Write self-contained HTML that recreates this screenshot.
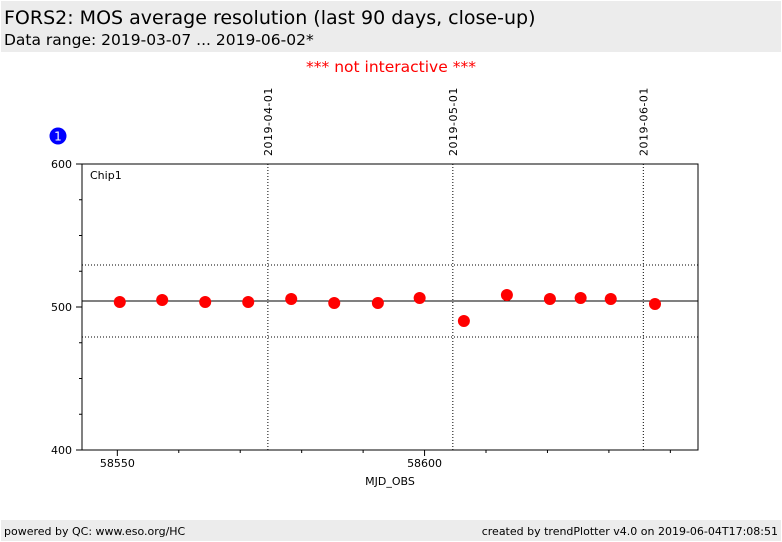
<!DOCTYPE html>
<html><head><meta charset="utf-8"><style>
body{margin:0;background:#fff;font-family:"DejaVu Sans","Liberation Sans",sans-serif;}
#wrap{position:relative;width:782px;height:542px;overflow:hidden;}
.hdr{position:absolute;left:1px;top:1px;width:780px;height:51px;background:#ececec;}
.ftr{position:absolute;left:1px;top:520px;width:780px;height:21px;background:#ececec;font-size:11px;}
</style></head><body>
<div id="wrap">
<div class="hdr">
<div style="position:absolute;left:3px;top:6px;font-size:19px">FORS2: MOS average resolution (last 90 days, close-up)</div>
<div style="position:absolute;left:3px;top:30px;font-size:15.5px">Data range: 2019-03-07 ... 2019-06-02*</div>
</div>
<div style="position:absolute;left:0;width:782px;top:58px;text-align:center;color:#f00;font-size:15.5px">*** not interactive ***</div>
<div class="ftr">
<span style="position:absolute;left:3px;top:5px">powered by QC: www.eso.org/HC</span>
<span style="position:absolute;right:3px;top:5px">created by trendPlotter v4.0 on 2019-06-04T17:08:51</span>
</div>
<svg id="svg" width="782" height="542" style="position:absolute;left:0;top:0" font-family="DejaVu Sans, Liberation Sans, sans-serif"></svg>
</div>
<script>
const mjd=[58550.4,58557.3,58564.3,58571.3,58578.3,58585.3,58592.4,58599.2,58606.4,58613.4,58620.4,58625.4,58630.3,58637.5];
const res=[503.5,504.9,503.5,503.5,505.6,502.8,502.8,506.3,490.2,508.4,505.6,506.3,505.6,502.1];
const xTicks=[58550,58600];
const yTicks=[400,500,600];
const dateLines=[58574.5,58604.6,58635.6];
const dateLabels=["2019-04-01","2019-05-01","2019-06-01"];
const refLines=[504.2];
const limitLines=[529.4,479];
const L=82,R=698,T=164,B=450,X0=58544.25,X1=58644.5,Y0=400,Y1=600;
const xs=v=>L+(v-X0)/(X1-X0)*(R-L);
const ys=v=>B-(v-Y0)/(Y1-Y0)*(B-T);
const svg=document.getElementById('svg');
const NS='http://www.w3.org/2000/svg';
function mk(tag,attrs,name,txt){const e=document.createElementNS(NS,tag);for(const k in attrs)e.setAttribute(k,attrs[k]);


if(txt!==undefined)e.textContent=txt;svg.appendChild(e);return e;}
mk('rect',{x:L,y:T,width:R-L,height:B-T,fill:'#fff',stroke:'#000','stroke-width':1},'plot-area');
dateLines.forEach((d,i)=>{const x=xs(d);
mk('line',{x1:x,x2:x,y1:T,y2:B,stroke:'#000','stroke-dasharray':'1,2','stroke-width':1},'date-gridline');
mk('text',{x:0,y:0,transform:`translate(${x+4},156) rotate(-90)`,'font-size':11,'letter-spacing':'0.5'},'date-label',dateLabels[i]);});
limitLines.forEach(v=>mk('line',{x1:L,x2:R,y1:ys(v),y2:ys(v),stroke:'#000','stroke-dasharray':'1,2'},'limit-line'));
refLines.forEach(v=>mk('line',{x1:L,x2:R,y1:ys(v),y2:ys(v),stroke:'#000','stroke-width':1},'reference-line'));
for(let v=58550;v<=58640;v+=10){const x=xs(v);const maj=xTicks.includes(v);
mk('line',{x1:x,x2:x,y1:B,y2:B+(maj?6:3),stroke:'#000'},'x-tick');}
xTicks.forEach(v=>mk('text',{x:xs(v),y:467,'text-anchor':'middle','font-size':11},'x-tick-label',v));
for(let v=400;v<=600;v+=25){const y=ys(v);const maj=yTicks.includes(v);
mk('line',{x1:L,x2:L-(maj?6:3),y1:y,y2:y,stroke:'#000'},'y-tick');}
yTicks.forEach(v=>mk('text',{x:72,y:ys(v)+4,'text-anchor':'end','font-size':11},'y-tick-label',v));
mk('text',{x:390,y:485,'text-anchor':'middle','font-size':11},'x-axis-title','MJD_OBS');
mk('text',{x:90,y:179,'font-size':11},'panel-label','Chip1');
mjd.forEach((m,i)=>mk('circle',{cx:xs(m),cy:ys(res[i]),r:6,fill:'#f00'},'data-point'));
mk('circle',{cx:58,cy:136,r:8.5,fill:'#00f'},'panel-badge');
mk('text',{x:58,y:140.5,'text-anchor':'middle','font-size':12,fill:'#fff'},'panel-badge-number','1');
</script>
</body></html>
